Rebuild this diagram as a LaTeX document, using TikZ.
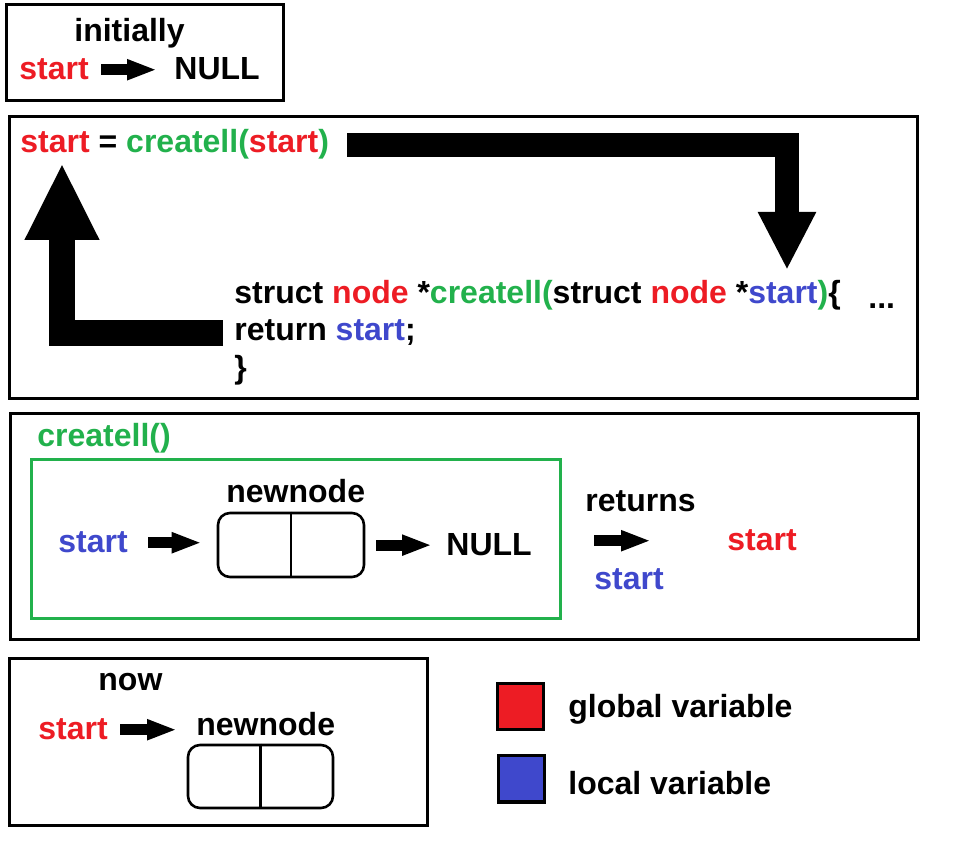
\documentclass[tikz,border=0pt]{standalone}
\usepackage{fontspec}
\setmainfont{Liberation Sans}
\usetikzlibrary{arrows.meta}
\definecolor{gvar}{RGB}{237,28,36}
\definecolor{lvar}{RGB}{63,72,204}
\definecolor{fgreen}{RGB}{34,177,76}
\tikzset{
	txt/.style={anchor=base west,inner sep=0pt,font=\bfseries\fontsize{16}{19}\selectfont},
	frame/.style={line width=1.5pt},
	fatarrow/.style={line width=5.5pt,-{Triangle[length=15pt,width=9.5pt]}},
	cellbox/.style={draw,line width=1.3pt,rounded corners=6pt,minimum width=73pt,minimum height=32pt,inner sep=0pt},
	keybox/.style={draw,line width=1.5pt,minimum width=23pt,minimum height=23pt,inner sep=0pt},
}
\begin{document}
\begin{tikzpicture}[x=0.5pt,y=-0.5pt] % one unit is one pixel of the sketch
				\useasboundingbox (0,0) rectangle (971,845);
				\draw[frame] (6,5) rectangle (283,101);\draw[frame] (9,117) rectangle (917,399);
				\draw[frame] (10,414) rectangle (918,640);\draw[frame,fgreen] (31,460) rectangle (560,619);
				\draw[frame] (9,659) rectangle (427,825);
				% initially
				\node[txt] (init) at (74,42) {initially};
				\node[txt,gvar] (s1) at (19,80) {start};
				\node[txt] (n1) at (174,80) {NULL};
				\draw[fatarrow,shorten <=6pt,shorten >=8.5pt] (s1.east) -- (s1.east -| n1.west);
				% the call
				\node[txt] (call) at (20,153) {\textcolor{gvar}{start} = \textcolor{fgreen}{createll(}\textcolor{gvar}{start}\textcolor{fgreen}{)}};
				\node[txt] (c1) at (234,304) {struct \textcolor{gvar}{node} *\textcolor{fgreen}{createll(}struct \textcolor{gvar}{node} *\textcolor{lvar}{start}\textcolor{fgreen}{)}\{};
				\node[txt] (c2) at (234,341) {return \textcolor{lvar}{start};};
				\node[txt] (c3) at (234,379) {\}};
				\node[txt] (dots) at (868,309) {...};
				\coordinate (rtip) at (787,270);\coordinate (ltip) at (62,163);
				\draw[line width=12pt,-{Triangle[length=29pt,width=27pt]}] ([xshift=9pt]call.east) -| (rtip);
				\draw[line width=13pt,-{Triangle[length=38.5pt,width=34.5pt]}] ([xshift=-5.5pt]c2.west) -| (ltip);
				% inside createll
				\node[txt,fgreen] (fn) at (37,447) {createll()};
				\node[txt,lvar] (s3) at (58,553) {start};
				\node[cellbox] (cell3) at (291,545) {};\draw[line width=1.3pt] (cell3.north) -- (cell3.south);
				\node[txt] (nn3) at (226,503) {newnode};
				\node[txt] (n3) at (446,556) {NULL};
				\draw[fatarrow,shorten <=10pt,shorten >=7.5pt] (s3.east) -- (s3.east -| cell3.west);
				\draw[fatarrow,shorten <=5.5pt,shorten >=7pt] (cell3.east |- n3.west) -- (n3.west);
				\node[txt] (ret) at (585,512) {returns};
				\node[txt,gvar] (sg) at (727,551) {start};
				\node[txt,lvar] (sl) at (594,590) {start};
				\draw[fatarrow,shorten >=38pt] (sl.west |- sg.west) -- (sg.west);
				% now
				\node[txt] (now) at (98,690) {now};
				\node[txt,gvar] (s4) at (38,740) {start};
				\node[txt] (nn4) at (196,735) {newnode};
				\node[cellbox,minimum width=72.5pt,minimum height=31.5pt] (cell4) at (260.5,776.5) {};
				\draw[line width=1.3pt] (cell4.north) -- (cell4.south);
				\draw[fatarrow,shorten <=6pt,shorten >=9.5pt] (s4.east) -- (s4.east -| nn4.west);
				% legend
				\node[keybox,fill=gvar] (kg) at (520.5,706.5) {};
				\node[keybox,fill=lvar] (kl) at (521.5,779) {};
				\node[txt] (kgt) at (568,718) {global variable};
				\node[txt] (klt) at (568,794) {local variable};
			\end{tikzpicture}
\end{document}
